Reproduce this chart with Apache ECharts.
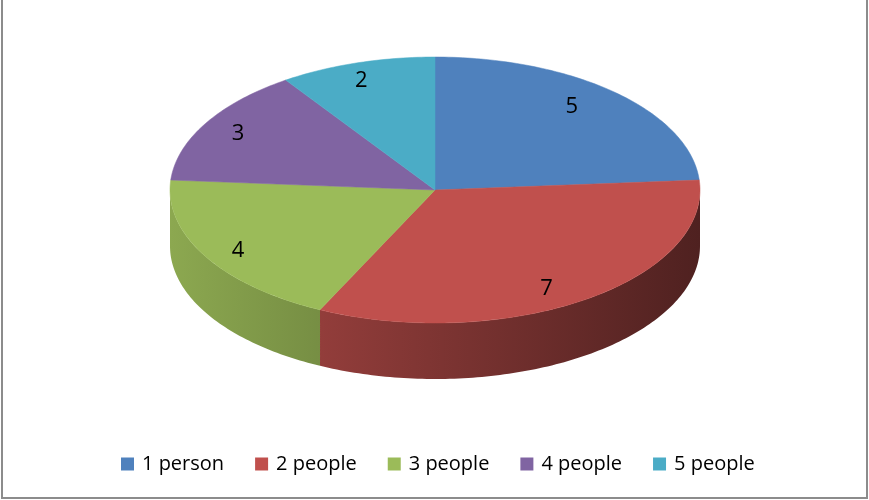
<!DOCTYPE html>
<html>
<head>
<meta charset="utf-8">
<script src="https://cdn.jsdelivr.net/npm/echarts@6/dist/echarts.min.js"></script>
<style>
  html, body { margin: 0; padding: 0; background: #fff; }
  #chart { width: 869px; height: 500px; }
</style>
</head>
<body>
<div id="chart"></div>
<script>
// Household size breakdown
const categories = ['1 person', '2 people', '3 people', '4 people', '5 people'];
const counts = [5, 7, 4, 3, 2];
const sliceColors = ['#4f81bd', '#c0504d', '#9bbb59', '#8064a2', '#4bacc6'];

const total = counts.reduce((a, b) => a + b, 0);
const startShare = [];
counts.reduce((acc, v) => { startShare.push(acc / total); return acc + v; }, 0);

// Tilted disc layout (pixels) and label placement
const disc = { cx: 435, cy: 190, rx: 265, ry: 133, depth: 56 };
const labelRing = { dx: -10, dy: 2, kx: 0.815, ky: 0.877 };
const FONT = '"Open Sans", "Noto Sans", sans-serif';

// Angle in degrees, clockwise from 12 o'clock, mapped onto the elliptical rim
function rim(deg, drop) {
  const r = deg * Math.PI / 180;
  return [disc.cx + disc.rx * Math.sin(r), disc.cy - disc.ry * Math.cos(r) + (drop || 0)];
}
function arc(a0, a1, drop) {
  const pts = [];
  const steps = Math.max(2, Math.ceil(a1 - a0));
  for (let i = 0; i <= steps; i++) pts.push(rim(a0 + (a1 - a0) * i / steps, drop));
  return pts;
}
function shade(hex, k) {
  const n = parseInt(hex.slice(1), 16);
  const c = [(n >> 16) & 255, (n >> 8) & 255, n & 255].map(v => Math.round(v * k));
  return 'rgb(' + c.join(',') + ')';
}

function renderSlice(idx, api) {
  const value = api.value(0);
  const a0 = startShare[idx] * 360;
  const a1 = a0 + value / total * 360;
  const color = sliceColors[idx];
  const children = [];

  // visible front wall (lower half of the rim)
  const w0 = Math.max(a0, 90), w1 = Math.min(a1, 270);
  if (w1 > w0) {
    const top = arc(w0, w1, 0);
    const bottom = arc(w0, w1, disc.depth).reverse();
    children.push({
      type: 'polygon',
      z2: 1,
      shape: { points: top.concat(bottom) },
      style: {
        fill: {
          type: 'linear', global: true,
          x: disc.cx - disc.rx, y: 0, x2: disc.cx + disc.rx, y2: 0,
          colorStops: [
            { offset: 0, color: shade(color, 0.9) },
            { offset: 1, color: shade(color, 0.41) }
          ]
        },
        stroke: null
      }
    });
  }

  // top face
  children.push({
    type: 'polygon',
    z2: 10,
    shape: { points: [[disc.cx, disc.cy]].concat(arc(a0, a1, 0)) },
    style: { fill: color, stroke: color, lineWidth: 0.5 }
  });

  // value label
  const mid = (a0 + a1) / 2 * Math.PI / 180;
  children.push({
    type: 'text',
    z2: 20,
    x: disc.cx + labelRing.dx + labelRing.kx * disc.rx * Math.sin(mid),
    y: disc.cy + labelRing.dy - labelRing.ky * disc.ry * Math.cos(mid),
    style: {
      text: String(value),
      fill: '#000',
      font: '22px ' + FONT,
      align: 'center',
      verticalAlign: 'middle',
      textAlign: 'center',
      textVerticalAlign: 'middle'
    }
  });

  return { type: 'group', children };
}

const chart = echarts.init(document.getElementById('chart'), null, { renderer: 'canvas' });

chart.setOption({
  backgroundColor: '#ffffff',
  animation: false,
  color: sliceColors,
  legend: {
    data: categories,
    left: 121,
    top: 453,
    icon: 'rect',
    itemWidth: 13,
    itemHeight: 13,
    itemGap: 31,
    selectedMode: false,
    padding: 0,
    textStyle: { fontSize: 20, fontFamily: FONT, color: '#000', lineHeight: 22, padding: [0, 0, 0, 3] }
  },
  graphic: [{
    type: 'rect',
    silent: true,
    shape: { x: 2, y: -10, width: 865, height: 508 },
    style: { fill: null, stroke: '#8c8c8c', lineWidth: 2 }
  }],
  series: categories.map((name, i) => ({
    type: 'custom',
    name: name,
    coordinateSystem: 'none',
    itemStyle: { color: sliceColors[i] },
    silent: true,
    data: [[counts[i]]],
    renderItem: (params, api) => renderSlice(i, api)
  }))
});
</script>
</body>
</html>
